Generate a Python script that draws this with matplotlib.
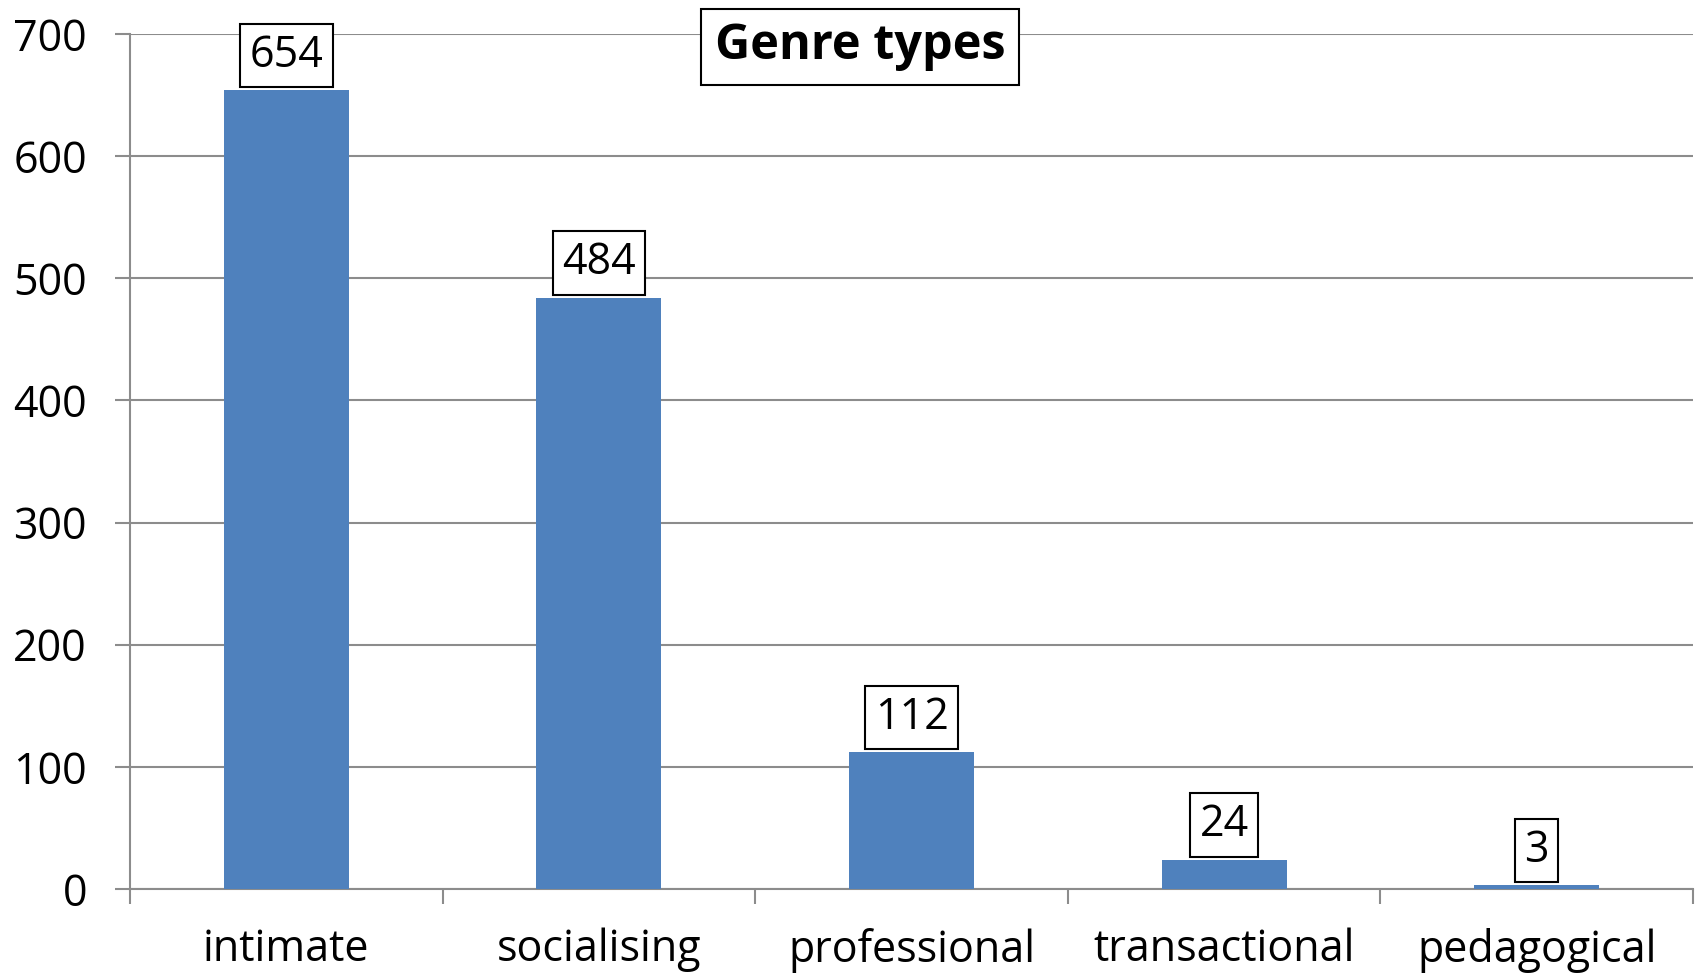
import numpy as np
import matplotlib.pyplot as plt

plt.rcParams['font.family'] = ['Open Sans', 'DejaVu Sans']

# Data
genres = ['intimate', 'socialising', 'professional', 'transactional', 'pedagogical']
counts = [654, 484, 112, 24, 3]

bar_color = '#4F81BD'
grid_color = '#8C8C8C'

fig = plt.figure(figsize=(17, 9.76), dpi=100)
ax = fig.add_axes([0.0765, 0.0891, 0.9194, 0.8761])

x = np.arange(len(genres))
bars = ax.bar(x, counts, width=0.4, color=bar_color, zorder=3)

ax.set_xlim(-0.5, len(genres) - 0.5)
ax.set_ylim(0, 700)
ax.set_yticks(range(0, 701, 100))
ax.yaxis.grid(True, color=grid_color, linewidth=1.5, zorder=0)

# category boundaries as major ticks, labels on minor ticks at centers
ax.set_xticks(np.arange(-0.5, len(genres)))
ax.set_xticklabels([])
ax.set_xticks(x, minor=True)
ax.set_xticklabels(genres, minor=True, fontsize=31)
ax.tick_params(axis='x', which='major', length=11, width=1.5, color=grid_color, direction='out')
ax.tick_params(axis='x', which='minor', length=0, pad=28)
ax.tick_params(axis='y', length=11, width=1.5, color=grid_color, labelsize=31, pad=20)

for s in ['top', 'right']:
    ax.spines[s].set_visible(False)
for s in ['left', 'bottom']:
    ax.spines[s].set_color(grid_color)
    ax.spines[s].set_linewidth(1.5)

# value labels in boxes
for xi, v in zip(x, counts):
    ax.annotate(str(v), xy=(xi, v), xytext=(0, 9), textcoords='offset points',
                ha='center', va='bottom', fontsize=31, zorder=5,
                bbox=dict(boxstyle='square,pad=0.22', fc='white', ec='black', lw=1.5))

ax.text(0.467, 0.985, 'Genre types', transform=ax.transAxes, ha='center', va='center',
        fontsize=35, fontweight='bold', zorder=5,
        bbox=dict(boxstyle='square,pad=0.28', fc='white', ec='black', lw=1.5))

plt.savefig('out.png', dpi=100)
